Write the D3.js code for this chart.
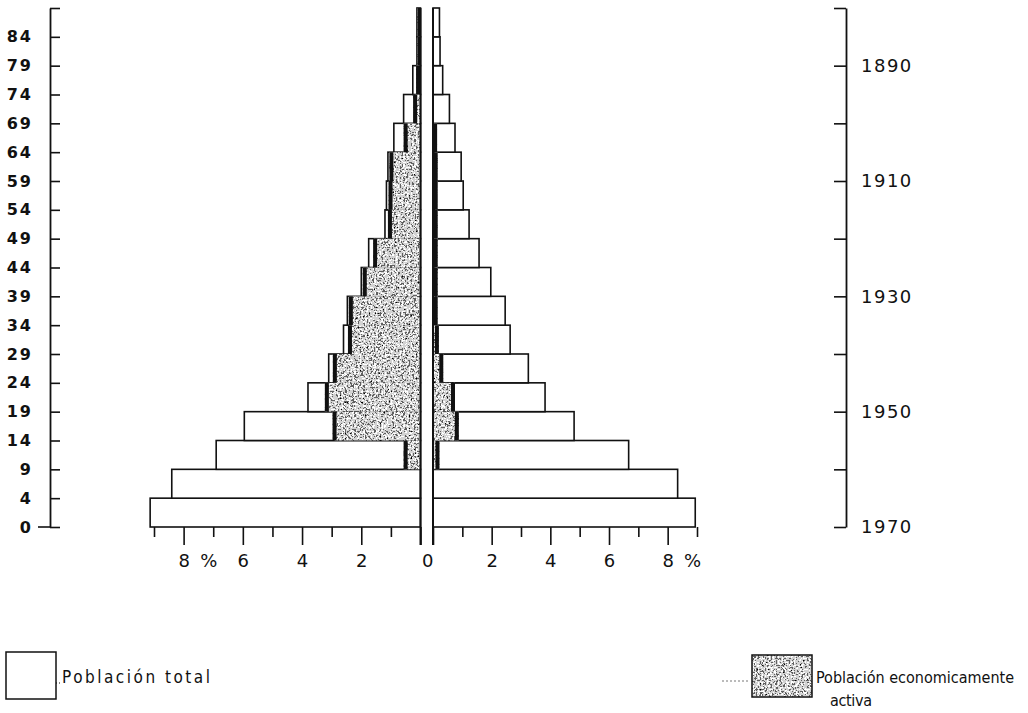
<!DOCTYPE html>
<html>
<head>
<meta charset="utf-8">
<script src="https://cdn.jsdelivr.net/npm/d3@7/dist/d3.min.js"></script>
<style>
  body { margin: 0; background: #fff; }
  svg { display: block; }
</style>
</head>
<body>
<script>
// grupos de edad, de abajo (0-4) hacia arriba (85+)
var grupos = ['0-4', '5-9', '10-14', '15-19', '20-24', '25-29', '30-34', '35-39', '40-44',
  '45-49', '50-54', '55-59', '60-64', '65-69', '70-74', '75-79', '80-84', '85+']

// % de la poblacion, lado izquierdo y derecho
var totalIzq = [9.13, 8.4, 6.9, 5.95, 3.8, 3.1, 2.6, 2.47, 2.0, 1.75, 1.2, 1.15, 1.1, 0.9, 0.57, 0.26, 0.12, 0.12]
var activaIzq = [0, 0, 0.57, 2.97, 3.23, 2.96, 2.45, 2.42, 1.95, 1.6, 1.1, 1.08, 1.05, 0.57, 0.25, 0.15, 0.1, 0.1]
var totalDer = [8.94, 8.34, 6.67, 4.81, 3.82, 3.25, 2.63, 2.46, 1.97, 1.57, 1.23, 1.03, 0.96, 0.75, 0.56, 0.33, 0.24, 0.22]
var activaDer = [0, 0, 0.22, 0.88, 0.75, 0.35, 0.2, 0.16, 0.16, 0.16, 0.16, 0.16, 0.16, 0.14, 0, 0, 0, 0]

// etiquetas de los ejes
var edadLimites = d3.range(0, 95, 5)
var edadEtiquetas = ['0', '4', '9', '14', '19', '24', '29', '34', '39', '44', '49', '54', '59', '64', '69', '74', '79', '84']
var anios = [1880, 1890, 1900, 1910, 1920, 1930, 1940, 1950, 1960, 1970]
var aniosEtiqueta = [1890, 1910, 1930, 1950, 1970]
var pctPares = [0, 2, 4, 6, 8]
var pctImpares = [1, 3, 5, 7, 9]

var ink = '#111'
var W = 1028, H = 713

var svg = d3.select('body').append('svg')
  .attr('width', W)
  .attr('height', H)

// textura punteada para la poblacion activa
var defs = svg.append('defs')
var f = defs.append('filter').attr('id', 'grano')
  .attr('x', 0).attr('y', 0).attr('width', '100%').attr('height', '100%')
f.append('feTurbulence').attr('type', 'fractalNoise').attr('baseFrequency', 0.55)
  .attr('numOctaves', 3).attr('seed', 7).attr('result', 'n')
f.append('feColorMatrix').attr('in', 'n').attr('type', 'saturate').attr('values', 0).attr('result', 'g')
var ct = f.append('feComponentTransfer').attr('in', 'g').attr('result', 'd')
;['feFuncR', 'feFuncG', 'feFuncB'].forEach(function(c) {
  ct.append(c).attr('type', 'discrete').attr('tableValues', '0 0 0.12 0.65 1 1 1')
})
ct.append('feFuncA').attr('type', 'linear').attr('slope', 0).attr('intercept', 1)
f.append('feComposite').attr('in', 'd').attr('in2', 'SourceGraphic').attr('operator', 'in')

var yEdad = d3.scaleLinear().domain([0, 90]).range([527, 8])
var xIzq = d3.scaleLinear().domain([0, 9]).range([420.5, 154])
var xDer = d3.scaleLinear().domain([0, 9]).range([433, 697])
var yAnio = d3.scaleLinear().domain([1970, 1880]).range([527, 8])

function yTop(i) { return yEdad(i * 5 + 5) }
function alto(i) { return yEdad(i * 5) - yEdad(i * 5 + 5) }

var barras = svg.append('g')

// poblacion total
barras.selectAll('.ti').data(totalIzq).enter().append('rect')
  .attr('x', d => xIzq(d))
  .attr('y', (d, i) => yTop(i))
  .attr('width', d => xIzq(0) - xIzq(d))
  .attr('height', (d, i) => alto(i))
  .attr('fill', '#fff').attr('stroke', ink).attr('stroke-width', 1.6)

barras.selectAll('.td').data(totalDer).enter().append('rect')
  .attr('x', xDer(0))
  .attr('y', (d, i) => yTop(i))
  .attr('width', d => xDer(d) - xDer(0))
  .attr('height', (d, i) => alto(i))
  .attr('fill', '#fff').attr('stroke', ink).attr('stroke-width', 1.6)

// poblacion economicamente activa
activaIzq.forEach(function(d, i) {
  if (!d) return
  barras.append('rect')
    .attr('x', xIzq(d)).attr('y', yTop(i))
    .attr('width', xIzq(0) - xIzq(d)).attr('height', alto(i))
    .attr('fill', '#999').attr('filter', 'url(#grano)')
  barras.append('rect')
    .attr('x', xIzq(d)).attr('y', yTop(i))
    .attr('width', Math.min(4, xIzq(0) - xIzq(d))).attr('height', alto(i))
    .attr('fill', ink)
})

activaDer.forEach(function(d, i) {
  if (!d) return
  barras.append('rect')
    .attr('x', xDer(0)).attr('y', yTop(i))
    .attr('width', xDer(d) - xDer(0)).attr('height', alto(i))
    .attr('fill', '#999').attr('filter', 'url(#grano)')
  barras.append('rect')
    .attr('x', Math.max(xDer(0), xDer(d) - 4)).attr('y', yTop(i))
    .attr('width', Math.min(4, xDer(d) - xDer(0))).attr('height', alto(i))
    .attr('fill', ink)
})

// lineas del cero
;[xIzq(0), xDer(0)].forEach(function(x) {
  svg.append('line').attr('x1', x).attr('x2', x).attr('y1', 8).attr('y2', 545)
    .attr('stroke', ink).attr('stroke-width', 2)
})

function estilo(g) {
  g.selectAll('path.domain').attr('stroke', ink).attr('stroke-width', 1.8)
  g.selectAll('.tick line').attr('stroke', ink).attr('stroke-width', 1.6)
  g.selectAll('.tick text').attr('fill', ink)
    .style('font-family', '"DejaVu Sans", sans-serif')
}

// eje de edades (izquierda)
var gEdad = svg.append('g').attr('transform', 'translate(50,0)')
  .call(d3.axisRight(yEdad).tickValues(edadLimites).tickSize(10).tickSizeOuter(0).tickFormat(''))
  .call(estilo)
gEdad.append('line').attr('x1', -12).attr('x2', 0).attr('y1', yEdad(0)).attr('y2', yEdad(0))
  .attr('stroke', ink).attr('stroke-width', 1.6)

svg.append('g').attr('transform', 'translate(50,0)')
  .call(d3.axisLeft(yEdad).tickValues(edadLimites.slice(0, 18)).tickSize(0).tickPadding(17)
    .tickFormat((d, i) => edadEtiquetas[i]))
  .call(estilo)
  .call(g => g.select('.domain').remove())
  .call(g => g.selectAll('.tick text').style('font-size', '16px').style('font-weight', 'bold')
    .style('letter-spacing', '2px'))

// eje de anios (derecha)
svg.append('g').attr('transform', 'translate(846,0)')
  .call(d3.axisLeft(yAnio).tickValues(anios).tickSize(12).tickSizeOuter(0).tickFormat(''))
  .call(estilo)

svg.append('g').attr('transform', 'translate(846,0)')
  .call(d3.axisRight(yAnio).tickValues(aniosEtiqueta).tickSize(0).tickPadding(15).tickFormat(d3.format('d')))
  .call(estilo)
  .call(g => g.select('.domain').remove())
  .call(g => g.selectAll('.tick text').style('font-size', '18px').style('letter-spacing', '1.5px'))

// ejes de porcentaje (abajo)
function ejePct(x) {
  svg.append('g').attr('transform', 'translate(0,527)')
    .call(d3.axisBottom(x).tickValues(pctImpares).tickSize(10).tickFormat(''))
    .call(estilo)
    .call(g => g.select('.domain').remove())
  svg.append('g').attr('transform', 'translate(0,527)')
    .call(d3.axisBottom(x).tickValues(pctPares).tickSize(18).tickPadding(9)
      .tickFormat(d => d === 0 ? '' : d))
    .call(estilo)
    .call(g => g.select('.domain').remove())
    .call(g => g.selectAll('.tick text').style('font-size', '18px'))
}
ejePct(xIzq)
ejePct(xDer)

var pieTexto = svg.append('g').attr('fill', ink)
  .style('font-family', '"DejaVu Sans", sans-serif').style('font-size', '18px')
pieTexto.append('text').attr('x', (xIzq(0) + xDer(0)) / 2 + 1).attr('y', 567)
  .attr('text-anchor', 'middle').text('0')
pieTexto.append('text').attr('x', xIzq(7.15)).attr('y', 567)
  .attr('text-anchor', 'middle').text('%')
pieTexto.append('text').attr('x', xDer(8.85)).attr('y', 567)
  .attr('text-anchor', 'middle').text('%')

// leyenda
var ley = svg.append('g')
  .style('font-family', '"DejaVu Sans", sans-serif')
  .style('font-stretch', 'condensed')
  .style('font-size', '16px')

ley.append('rect').attr('x', 6).attr('y', 652).attr('width', 50).attr('height', 47)
  .attr('fill', '#fff').attr('stroke', ink).attr('stroke-width', 1.5)
ley.append('line').attr('x1', 56).attr('x2', 62).attr('y1', 683).attr('y2', 683)
  .attr('stroke', ink).attr('stroke-dasharray', '1,2')
ley.append('text').attr('x', 62).attr('y', 683).attr('fill', ink).style('font-size', '17px')
  .attr('textLength', 148).attr('lengthAdjust', 'spacing').text('Población total')

ley.append('line').attr('x1', 722).attr('x2', 750).attr('y1', 681).attr('y2', 681)
  .attr('stroke', '#777').attr('stroke-dasharray', '2,2')
ley.append('rect').attr('x', 752).attr('y', 655).attr('width', 60).attr('height', 42)
  .attr('fill', '#999').attr('filter', 'url(#grano)')
ley.append('rect').attr('x', 752).attr('y', 655).attr('width', 60).attr('height', 42)
  .attr('fill', 'none').attr('stroke', ink).attr('stroke-width', 1.5)
ley.append('text').attr('x', 816).attr('y', 683).attr('fill', ink)
  .attr('textLength', 198).attr('lengthAdjust', 'spacing').text('Población economicamente')
ley.append('text').attr('x', 830).attr('y', 706).attr('fill', ink)
  .attr('textLength', 42).attr('lengthAdjust', 'spacing').text('activa')
</script>
</body>
</html>
